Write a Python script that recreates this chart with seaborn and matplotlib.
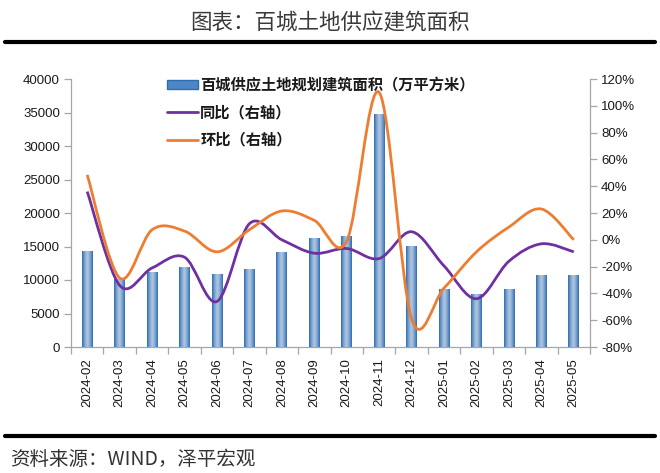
import numpy as np
import pandas as pd
import matplotlib
matplotlib.use("Agg")
import matplotlib.pyplot as plt
import seaborn as sns
from matplotlib.path import Path
from matplotlib.patches import PathPatch, Patch
from matplotlib.lines import Line2D
from matplotlib.colors import LinearSegmentedColormap
from matplotlib.ticker import FuncFormatter, FixedLocator

months = ["2024-02", "2024-03", "2024-04", "2024-05", "2024-06", "2024-07",
          "2024-08", "2024-09", "2024-10", "2024-11", "2024-12", "2025-01",
          "2025-02", "2025-03", "2025-04", "2025-05"]
area = [14300, 10200, 11150, 11900, 10850, 11650, 14200, 16250,
        16550, 34750, 15100, 8700, 7900, 8700, 10750, 10800]
yoy = [36, -34, -21, -13, -46, 12, 0, -10, -6.5, -14, 6, -19.5, -44, -16, -3, -9]
mom = [48.5, -28.5, 7.5, 6.5, -9, 7.5, 21.5, 14.5, -1, 110, -59, -36, -9, 9.5, 23, 0]

bar_label = "百城供应土地规划建筑面积（万平方米）"
yoy_label = "同比（右轴）"
mom_label = "环比（右轴）"
title = "图表：百城土地供应建筑面积"
source = "资料来源：WIND，泽平宏观"

sns.set_style("white")
plt.rcParams["font.family"] = ["Noto Sans CJK SC", "DejaVu Sans"]

fig = plt.figure(figsize=(6.6, 4.73), dpi=100)
ax = fig.add_axes([71 / 660, 1 - 347 / 473, 519 / 660, 268 / 473])

df = pd.DataFrame({"month": months, "area": area})
sns.barplot(data=df, x="month", y="area", ax=ax, color="#4f86c6", width=0.33,
            saturation=1, zorder=2)

# gradient fill on bars, dark edges and light centre
cmap = LinearSegmentedColormap.from_list("bar", ["#2e6cb5", "#7fa5d1", "#b4c8de", "#7fa5d1", "#2e6cb5"])
grad = np.linspace(0, 1, 64).reshape(1, -1)
for p in ax.patches:
    x0, y0 = p.get_x(), p.get_y()
    w, h = p.get_width(), p.get_height()
    im = ax.imshow(grad, cmap=cmap, aspect="auto", extent=(x0, x0 + w, y0, y0 + h),
                   zorder=3, interpolation="bilinear")
    im.set_clip_path(p)

ax.set_xlim(-0.5, len(months) - 0.5)
ax.set_ylim(0, 40000)
ax.set_yticks(range(0, 40001, 5000))
ax.set_xlabel("")
ax.set_ylabel("")

ax2 = ax.twinx()
ax2.set_ylim(-80, 120)
ax2.set_yticks(range(-80, 121, 20))
ax2.yaxis.set_major_formatter(FuncFormatter(lambda v, _: f"{v:.0f}%"))


def smooth_path(xs, ys):
    # excel-like smoothed line as cubic bezier segments
    pts = np.column_stack([xs, ys]).astype(float)
    n = len(pts)
    verts = [pts[0]]
    codes = [Path.MOVETO]
    for i in range(n - 1):
        p0 = pts[i - 1] if i > 0 else pts[i]
        p1, p2 = pts[i], pts[i + 1]
        p3 = pts[i + 2] if i + 2 < n else pts[i + 1]
        c1 = p1 + (p2 - p0) / 6
        c2 = p2 - (p3 - p1) / 6
        verts += [c1, c2, p2]
        codes += [Path.CURVE4] * 3
    return Path(verts, codes)


xpos = np.arange(len(months))
purple = "#7030a0"
orange = "#ed7d31"
ax2.add_patch(PathPatch(smooth_path(xpos, yoy), fill=False, ec=purple, lw=2.0, zorder=4))
ax2.add_patch(PathPatch(smooth_path(xpos, mom), fill=False, ec=orange, lw=2.0, zorder=5))

spine_c = "#a6a6a6"
for a in (ax, ax2):
    a.spines["top"].set_visible(False)
    for s in ("left", "right", "bottom"):
        a.spines[s].set_color(spine_c)
        a.spines[s].set_linewidth(0.9)
ax.spines["right"].set_visible(False)
ax2.spines["left"].set_visible(False)
ax2.spines["bottom"].set_visible(False)

tick_family = ["Liberation Sans", "DejaVu Sans"]
tick_color = "#1a1a1a"
ax.tick_params(axis="y", which="both", left=True, length=5, width=0.9, color=spine_c, pad=3)
ax2.tick_params(axis="y", right=True, length=5, width=0.9, color=spine_c, pad=3)
ax.tick_params(axis="x", which="major", length=0, pad=8)
ax.xaxis.set_minor_locator(FixedLocator(np.arange(-0.5, len(months), 1.0)))
ax.tick_params(axis="x", which="minor", bottom=True, length=5, width=0.9, color=spine_c)
for lab in ax.get_yticklabels() + ax2.get_yticklabels():
    lab.set_fontfamily(tick_family)
    lab.set_fontsize(9.5)
    lab.set_color(tick_color)
ax.set_xticks(xpos)
ax.set_xticklabels(months, rotation=90, fontfamily=tick_family, fontsize=9.5, color=tick_color)

ax.set_zorder(1)
ax2.set_zorder(2)
ax2.patch.set_visible(False)

handles = [Patch(facecolor="#4f86c6", edgecolor="#2e6cb5"),
           Line2D([], [], color=purple, lw=2.0),
           Line2D([], [], color=orange, lw=2.0)]
leg = ax2.legend(handles, [bar_label, yoy_label, mom_label], loc="upper left",
                 bbox_to_anchor=(0.174, 1.03), frameon=False, handlelength=2.0,
                 handleheight=0.55, handletextpad=0.15, labelspacing=0.74, borderaxespad=0,
                 prop=dict(family=["Noto Sans CJK SC", "DejaVu Sans"], weight="bold", size=11))
for t in leg.get_texts():
    t.set_color("#1a1a1a")

fig.text(0.5, 1 - 23 / 473, title, ha="center", va="center", fontsize=15.5,
         color="#3a3a3a", family=["Noto Sans CJK SC", "DejaVu Sans"])
fig.add_artist(Line2D([5 / 660, 655 / 660], [1 - 42.5 / 473] * 2, color="black", lw=3.0))
fig.add_artist(Line2D([5 / 660, 655 / 660], [1 - 436 / 473] * 2, color="black", lw=3.0))
fig.text(10 / 660, 1 - 459 / 473, source, ha="left", va="center", fontsize=14,
         color="#333333", fontstyle="italic",
         family=["Noto Sans CJK SC", "DejaVu Sans"])

fig.savefig("out.png", dpi=100)
